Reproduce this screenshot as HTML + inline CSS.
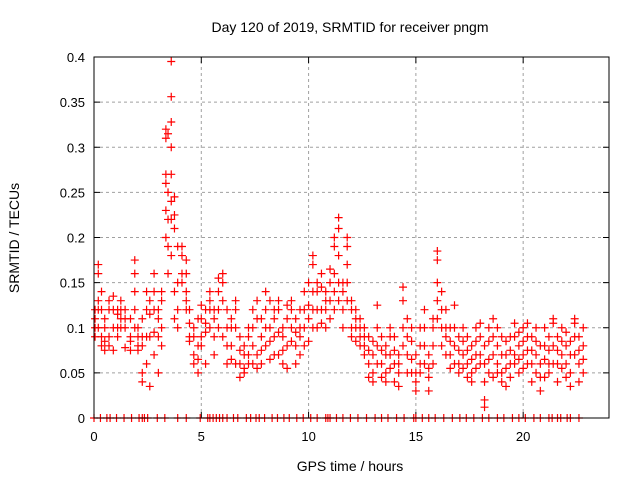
<!DOCTYPE html>
<html><head><meta charset="utf-8"><style>
html,body{margin:0;padding:0;background:#fff;width:640px;height:480px;overflow:hidden}
svg{display:block;font-family:"Liberation Sans",sans-serif}
</style></head><body>
<svg id="chart" width="640" height="480">
<text x="350" y="32" text-anchor="middle" font-size="14" fill="#000">Day 120 of 2019, SRMTID for receiver pngm</text>
<text x="350" y="471" text-anchor="middle" font-size="14" fill="#000">GPS time / hours</text>
<text transform="translate(19,238) rotate(-90)" text-anchor="middle" font-size="14" fill="#000">SRMTID / TECUs</text>
<g id="grid"></g>
<g id="ticks"></g>
<g id="marks"></g>
<rect x="94" y="57" width="515" height="361" fill="none" stroke="#000" stroke-width="1"/>
</svg>
<script>
const xTicks=[0,5,10,15,20];
const yTicks=[0,0.05,0.1,0.15,0.2,0.25,0.3,0.35,0.4];
const yTickLabels=["0","0.05","0.1","0.15","0.2","0.25","0.3","0.35","0.4"];
const groupTimes=[0.05,0.2,0.35,0.5,0.7,0.9,1.1,1.25,1.45,1.7,1.9,2.05,2.25,2.45,2.6,2.8,3.0,3.15,3.35,3.45,3.6,3.75,3.9,4.1,4.3,4.45,4.65,4.85,
5.0,5.2,5.4,5.6,5.8,6.0,6.2,6.4,6.6,6.8,7.0,7.2,7.4,7.6,7.8,8.0,8.2,8.4,8.6,8.8,9.0,9.2,9.4,9.6,9.8,10.0,10.2,10.4,10.6,10.8,11.0,11.2,11.4,11.6,11.8,12.0,
12.2,12.4,12.6,12.8,13.0,13.2,13.4,13.6,13.8,14.0,14.2,14.4,14.6,14.8,15.0,15.2,15.4,15.6,15.8,16.0,16.2,16.4,16.6,16.8,17.0,17.2,17.4,17.6,17.8,18.0,18.2,18.4,18.6,18.8,19.0,19.2,19.4,19.6,19.8,20.0,20.2,20.4,20.6,20.8,21.0,21.2,21.4,21.6,21.8,22.0,22.2,22.4,22.6,22.8];
const groupValues=[
[0.12,0.11,0.09,0.1],[0.17,0.16,0.13,0.12,0.1],[0.14,0.12,0.09,0.08],[0.11,0.1,0.085,0.075],[0.13,0.12,0.09,0.08],[0.135,0.12,0.1,0.075],[0.12,0.115,0.1,0.09],[0.13,0.12,0.11,0.1],[0.12,0.11,0.1,0.078],[0.11,0.09,0.085,0.075],[0.175,0.16,0.14,0.12,0.1],[0.1,0.09,0.08,0.075],[0.11,0.09,0.08,0.05,0.04],[0.14,0.12,0.09,0.06],[0.13,0.115,0.09,0.035],
[0.16,0.14,0.12,0.095,0.07],[0.12,0.11,0.09,0.05],[0.14,0.13,0.1,0.08],[0.32,0.31,0.27,0.26,0.23,0.2],[0.315,0.25,0.22,0.19,0.16],[0.395,0.356,0.328,0.3,0.27,0.24,0.22,0.18],[0.245,0.225,0.21,0.14,0.11],[0.19,0.15,0.12,0.1],[0.19,0.18,0.16,0.15],[0.175,0.16,0.14,0.13,0.12],[0.12,0.105,0.09,0.085],[0.1,0.09,0.07,0.06],[0.11,0.08,0.065,0.05],
[0.125,0.11,0.09,0.08],[0.12,0.105,0.095,0.06],[0.14,0.13,0.12,0.1],[0.12,0.11,0.09,0.07],[0.155,0.14,0.12,0.1],[0.16,0.15,0.13,0.09],[0.12,0.1,0.08,0.06],[0.11,0.1,0.08,0.065],[0.13,0.12,0.1,0.06],[0.09,0.075,0.06,0.045],[0.08,0.07,0.055,0.05],[0.1,0.09,0.07,0.06],[0.12,0.1,0.08,0.06],[0.13,0.11,0.07,0.055],[0.11,0.09,0.075,0.06],[0.14,0.12,0.1,0.08],[0.13,0.1,0.085,0.065],[0.12,0.11,0.09,0.07],[0.13,0.12,0.095,0.07],[0.1,0.09,0.075,0.06],[0.125,0.11,0.08,0.055],[0.13,0.12,0.1,0.085],[0.11,0.095,0.08,0.06],[0.12,0.1,0.09,0.07],[0.14,0.12,0.1,0.08],[0.15,0.125,0.11,0.085],[0.18,0.17,0.14,0.12,0.1],[0.15,0.14,0.12,0.1],[0.16,0.145,0.12,0.105],[0.14,0.13,0.12,0.1],[0.165,0.15,0.13,0.11],[0.2,0.19,0.16,0.14,0.12],[0.222,0.21,0.18,0.15,0.13],[0.15,0.14,0.12,0.1],[0.2,0.19,0.17,0.15,0.13],[0.13,0.12,0.1,0.09],
[0.12,0.11,0.1,0.085],[0.11,0.1,0.09,0.08],[0.1,0.09,0.08,0.07],[0.09,0.075,0.06,0.045],[0.085,0.07,0.05,0.04],[0.125,0.1,0.08,0.06],[0.09,0.075,0.06,0.045],[0.08,0.07,0.05,0.04],[0.1,0.09,0.07,0.055],[0.09,0.075,0.06,0.04],[0.07,0.06,0.05,0.035],[0.145,0.13,0.1,0.08],[0.11,0.09,0.07,0.05],[0.1,0.085,0.065,0.05],[0.07,0.05,0.04,0.03],[0.1,0.08,0.06,0.05],[0.12,0.1,0.08,0.06],[0.07,0.055,0.045,0.03],[0.11,0.1,0.08,0.06],[0.185,0.175,0.15,0.13,0.11],[0.14,0.12,0.1,0.08],[0.12,0.1,0.09,0.07],[0.1,0.085,0.07,0.055],[0.125,0.1,0.08,0.06],[0.09,0.075,0.06,0.05],[0.1,0.085,0.07,0.055],[0.09,0.075,0.06,0.045],[0.08,0.065,0.05,0.04],[0.1,0.085,0.07,0.055],[0.105,0.09,0.07,0.06],[0.08,0.06,0.04,0.02,0.012],[0.1,0.085,0.065,0.05],[0.11,0.09,0.07,0.045],[0.1,0.08,0.06,0.05],[0.09,0.07,0.05,0.04],[0.085,0.07,0.055,0.035],[0.09,0.075,0.06,0.045],[0.105,0.09,0.07,0.06],[0.095,0.08,0.065,0.05],[0.1,0.085,0.07,0.055],[0.105,0.09,0.075,0.06],[0.09,0.075,0.06,0.04],[0.1,0.085,0.07,0.05],[0.08,0.06,0.045,0.03],[0.1,0.08,0.065,0.045],[0.09,0.075,0.06,0.05],[0.11,0.105,0.08,0.06],[0.09,0.075,0.06,0.04],[0.1,0.085,0.07,0.055],
[0.095,0.08,0.06,0.045],[0.085,0.07,0.05,0.035],[0.11,0.105,0.09,0.07],[0.09,0.075,0.06,0.04],[0.1,0.08,0.065,0.05]
];
const zeroTimes=[0,0.3,0.6,0.75,1.05,1.4,1.75,2.1,2.25,2.35,2.5,2.95,3.3,3.9,4.3,4.95,5.3,5.4,5.55,5.7,5.85,6.0,6.2,6.5,6.7,7.1,7.3,7.55,7.7,7.95,8.3,8.55,8.85,9.1,9.45,9.75,10.1,10.4,10.8,10.9,11.0,11.3,11.6,11.95,12.3,12.7,13.1,13.4,13.7,14.1,14.45,14.9,15.0,15.3,15.6,15.9,16.3,16.7,17.05,17.35,17.7,18.1,18.4,18.8,19.1,19.5,19.8,20.1,20.5,20.8,21.2,21.35,21.6,21.75,22.05,22.2,22.6];
const X0=94,X1=609,Y0=418,Y1=57;
function sx(t){return X0+(t/24)*(X1-X0);}
function sy(v){return Y0-(v/0.4)*(Y0-Y1);}
const NS="http://www.w3.org/2000/svg";
const grid=document.getElementById('grid'),ticks=document.getElementById('ticks'),marks=document.getElementById('marks');
function mk(tag,attrs,parent){const e=document.createElementNS(NS,tag);for(const k in attrs)e.setAttribute(k,attrs[k]);parent.appendChild(e);return e;}
yTicks.forEach((v,i)=>{
  const y=sy(v);
  if(i>0&&i<yTicks.length-1){const g=mk('line',{x1:X0,x2:X1,y1:y,y2:y,stroke:'#a0a0a0','stroke-dasharray':'3,3'},grid);
  
  }
  mk('line',{x1:X0,x2:X0+6,y1:y,y2:y,stroke:'#000'},ticks);
  mk('line',{x1:X1,x2:X1-6,y1:y,y2:y,stroke:'#000'},ticks);
  const t=mk('text',{x:X0-9,y:y+5,'text-anchor':'end','font-size':'13',fill:'#000'},ticks);
  t.textContent=yTickLabels[i];
  
  
});
xTicks.forEach(v=>{
  const x=sx(v);
  if(v>0){const g=mk('line',{x1:x,x2:x,y1:Y0,y2:Y1,stroke:'#a0a0a0','stroke-dasharray':'3,3'},grid);
  
  }
  mk('line',{x1:x,x2:x,y1:Y0,y2:Y0-6,stroke:'#000'},ticks);
  mk('line',{x1:x,x2:x,y1:Y1,y2:Y1+6,stroke:'#000'},ticks);
  const t=mk('text',{x:x,y:Y0+23,'text-anchor':'middle','font-size':'13',fill:'#000'},ticks);
  t.textContent=String(v);
  
  
});
function plus(t,v){
  const x=sx(t),y=sy(v);
  const p=mk('path',{d:`M${x-4},${y}H${x+4}M${x},${y-4}V${y+4}`,stroke:'#ff0000','stroke-width':'1.2',fill:'none'},marks);
  
  
}
groupTimes.forEach((t,i)=>{(groupValues[i]||[]).forEach(v=>plus(t,v));});
zeroTimes.forEach(t=>plus(t,0));
</script>
</body></html>
